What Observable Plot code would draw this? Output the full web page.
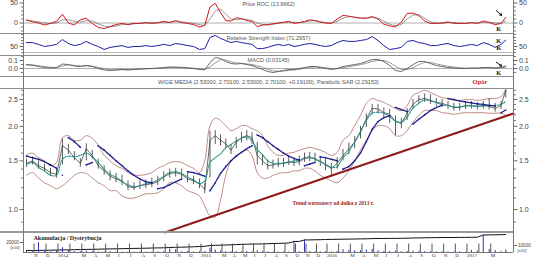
<!DOCTYPE html>
<html><head><meta charset="utf-8">
<script src="https://cdn.jsdelivr.net/npm/d3@7"></script>
<script src="https://cdn.jsdelivr.net/npm/@observablehq/plot@0.6"></script>
<style>
body{margin:0;background:#fff;}
#c{position:relative;width:536px;height:261px;overflow:hidden;font-family:"Liberation Sans",Arial,sans-serif;}
#c svg{position:absolute;left:0;overflow:visible;}
.ln{position:absolute;background:#8c8c8c;}
</style></head><body><div id="c"></div>
<script>
// sample positions: months after Jan 2014 (0 = Jan 2014)
const months = [-2.5,-2,-1.5,-1,-0.5,0,0.5,1,1.5,2,2.5,3,3.5,4,4.5,5,5.5,6,6.5,7,7.5,8,8.5,9,9.5,10,10.5,11,11.5,12,12.5,13,13.5,14,14.5,15,15.5,16,16.5,17,17.5,18,18.5,19,19.5,20,20.5,21,21.5,22,22.5,23,23.5,24,24.5,25,25.5,26,26.5,27,27.5,28,28.5,29,29.5,30,30.5,31,31.5,32,32.5,33,33.5,34,34.5,35,35.5,36,36.5,37,37.5,38,38.5,39,39.4];
const close = [1.47,1.50,1.44,1.41,1.36,1.34,1.70,1.64,1.54,1.47,1.66,1.57,1.44,1.38,1.32,1.29,1.27,1.21,1.20,1.22,1.23,1.24,1.26,1.31,1.35,1.36,1.34,1.29,1.27,1.24,
1.18,1.78,1.85,1.78,1.73,1.64,1.75,1.82,1.85,1.82,1.57,1.50,1.44,1.45,1.47,1.47,1.49,1.48,1.49,1.53,1.54,1.53,1.49,1.45,
1.41,1.47,1.57,1.66,1.75,1.90,2.13,2.32,2.31,2.24,2.21,2.08,2.05,2.23,2.40,2.50,2.52,2.48,2.44,2.42,2.38,2.34,2.34,2.38,
2.38,2.36,2.38,2.36,2.32,2.38,2.701];
const high = [1.52,1.55,1.50,1.46,1.41,1.40,1.80,1.72,1.62,1.53,1.73,1.64,1.52,1.44,1.38,1.35,1.33,1.27,1.25,1.27,1.28,1.30,1.32,1.37,1.40,1.41,1.40,1.35,1.32,1.29,
1.24,1.92,1.93,1.86,1.80,1.72,1.82,1.90,1.93,1.90,1.75,1.58,1.51,1.51,1.53,1.53,1.55,1.54,1.56,1.60,1.61,1.60,1.55,1.52,
1.47,1.54,1.65,1.74,1.84,2.00,2.22,2.40,2.40,2.33,2.30,2.18,2.14,2.32,2.50,2.58,2.62,2.60,2.52,2.50,2.46,2.42,2.42,2.46,
2.46,2.44,2.46,2.52,2.42,2.46,2.701];
const low = [1.42,1.45,1.40,1.37,1.32,1.30,1.45,1.58,1.50,1.42,1.50,1.52,1.40,1.33,1.27,1.25,1.22,1.17,1.17,1.18,1.19,1.20,1.22,1.26,1.30,1.31,1.29,1.25,1.23,1.19,
1.14,1.30,1.72,1.70,1.66,1.58,1.66,1.74,1.77,1.72,1.45,1.44,1.39,1.40,1.42,1.42,1.44,1.43,1.44,1.48,1.49,1.47,1.43,1.38,
1.33,1.40,1.50,1.58,1.66,1.80,1.98,2.20,2.22,2.15,2.05,1.85,1.96,2.10,2.30,2.42,2.44,2.40,2.36,2.35,2.30,2.27,2.27,2.30,
2.31,2.29,2.31,2.29,2.25,2.30,2.53];
const upperBand = [1.57,1.60,1.54,1.50,1.44,1.48,1.82,1.85,1.78,1.78,1.85,1.81,1.71,1.57,1.50,1.44,1.41,1.36,1.33,1.33,1.34,1.36,1.41,1.44,1.48,1.49,1.48,1.44,1.41,1.36,
1.50,2.01,2.14,2.10,2.01,1.93,1.96,2.01,2.01,1.96,1.93,1.85,1.70,1.61,1.57,1.57,1.60,1.61,1.64,1.66,1.68,1.66,1.64,1.61,
1.57,1.61,1.78,1.85,2.01,2.19,2.42,2.52,2.48,2.44,2.38,2.32,2.28,2.38,2.59,2.65,2.70,2.65,2.59,2.54,2.52,2.48,2.48,2.50,
2.50,2.48,2.50,2.52,2.52,2.56,2.73];
const lowerBand = [1.33,1.36,1.30,1.25,1.22,1.19,1.22,1.27,1.33,1.36,1.35,1.30,1.25,1.22,1.17,1.17,1.12,1.10,1.10,1.12,1.14,1.14,1.15,1.19,1.25,1.25,1.22,1.17,1.15,1.12,
1.03,0.95,0.94,1.08,1.33,1.50,1.57,1.61,1.64,1.57,1.36,1.30,1.30,1.33,1.35,1.36,1.36,1.38,1.38,1.41,1.41,1.38,1.33,1.30,
1.27,1.25,1.30,1.38,1.50,1.64,1.78,1.93,2.01,2.01,1.96,1.85,1.85,1.93,2.07,2.19,2.28,2.28,2.28,2.24,2.23,2.21,2.23,2.24,
2.24,2.24,2.24,2.23,2.23,2.23,2.19];
const middleBand = [1.45,1.48,1.42,1.38,1.33,1.33,1.52,1.56,1.55,1.57,1.60,1.55,1.48,1.40,1.34,1.31,1.26,1.23,1.21,1.22,1.24,1.25,1.28,1.32,1.36,1.37,1.35,1.31,1.28,1.24,
1.27,1.48,1.54,1.59,1.67,1.72,1.77,1.81,1.83,1.77,1.65,1.58,1.50,1.47,1.46,1.47,1.48,1.50,1.51,1.54,1.55,1.52,1.49,1.46,
1.42,1.43,1.54,1.62,1.76,1.92,2.10,2.23,2.25,2.23,2.17,2.09,2.07,2.16,2.33,2.42,2.49,2.47,2.44,2.39,2.38,2.35,2.35,2.37,
2.37,2.36,2.37,2.38,2.38,2.40,2.46];
const sar = [1.56,1.54,1.52,1.49,1.45,1.41,1.33,1.82,1.76,1.68,1.45,1.48,1.70,1.64,1.57,1.50,1.44,1.38,1.33,1.29,1.26,1.25,1.19,1.20,1.23,1.26,1.29,1.37,1.36,1.34,
1.32,1.17,1.25,1.35,1.43,1.50,1.56,1.61,1.66,1.70,1.86,1.82,1.76,1.70,1.65,1.60,1.56,1.53,1.51,1.44,1.46,1.48,1.55,1.54,
1.52,1.50,1.40,1.43,1.50,1.60,1.76,1.95,2.08,2.15,2.18,2.34,2.30,2.26,2.04,2.12,2.20,2.28,2.34,2.38,2.52,2.50,2.47,2.45,
2.43,2.41,2.40,2.38,2.37,2.24,2.29153];
const roc = [8,3,0,-5,-1,4,22,0,-5,8,12,-1,-11,-14,-9,-4,-1,-4,-1,-1,1,-1,1,4,1,6,1,-1,-4,-10,
-6,40,49,26,6,5,13,11,6,4,-9,-5,-4,-2,0,2,4,-1,1,4,8,6,2,0,
-1,10,19,17,14,12,12,16,10,-3,-7,-10,2,24,25,18,5,-1,-1,0,3,-1,-1,-1,
1,-1,5,1,-4,-1,13.97];
const rocSignal = [6,5,3,0,-1,0,8,8,4,2,6,5,-2,-8,-10,-8,-4,-3,-2,-1,0,0,0,2,2,3,3,1,-1,-4,
-6,10,30,35,22,10,8,10,9,6,0,-4,-5,-3,-1,1,2,2,1,2,5,6,4,1,
0,4,12,16,15,13,12,14,12,4,-3,-7,-4,10,20,21,12,3,0,-1,1,1,0,-1,
0,0,2,2,0,-1,5];
const rsi = [63,63,57,50,53,57,73,60,53,57,67,57,50,40,47,50,53,47,50,50,53,50,53,57,53,60,57,53,50,40,
43,80,87,77,70,63,67,63,60,57,43,43,47,53,57,53,57,50,53,57,60,57,53,50,
53,63,70,67,67,70,73,83,70,53,40,43,47,67,70,63,60,53,53,57,60,53,50,53,
57,53,63,57,47,57,71.3];
const macd = [0.05,0.04,0.025,0.012,0.006,0.012,0.056,0.05,0.03,0.025,0.037,0.025,0,-0.018,-0.025,-0.018,-0.012,-0.018,-0.012,-0.006,0,0,0.006,0.012,0.018,0.018,0.012,0.006,0,-0.012,
-0.018,0.075,0.137,0.125,0.088,0.062,0.056,0.062,0.05,0.037,0.012,-0.012,-0.037,-0.05,-0.037,-0.025,-0.012,-0.012,0,0.012,0.025,0.025,0.012,0,
-0.012,0,0.025,0.037,0.05,0.062,0.088,0.112,0.112,0.088,0.037,-0.025,-0.037,0,0.05,0.088,0.088,0.062,0.037,0.025,0.012,0.006,0,0,
0.006,0.006,0.012,0.012,0.006,0.012,0.03145];
const macdSignal = [0.045,0.045,0.035,0.025,0.015,0.012,0.03,0.045,0.04,0.032,0.033,0.03,0.015,0,-0.015,-0.018,-0.015,-0.015,-0.013,-0.01,-0.005,-0.002,0.002,0.006,0.012,0.015,0.014,0.01,0.004,-0.004,
-0.01,0.02,0.07,0.11,0.105,0.085,0.07,0.065,0.058,0.05,0.035,0.015,-0.01,-0.03,-0.035,-0.032,-0.025,-0.018,-0.01,0,0.012,0.02,0.018,0.01,
0,-0.003,0.008,0.022,0.035,0.048,0.065,0.088,0.1,0.1,0.075,0.03,-0.01,-0.015,0.01,0.05,0.075,0.075,0.058,0.042,0.028,0.018,0.01,0.004,
0.003,0.004,0.008,0.01,0.009,0.009,0.018];
const volume = [1500,1200,14000,1500,1000,2500,7000,3000,1200,1000,2000,1000,800,800,1000,800,600,700,600,800,700,600,900,1200,5000,4000,1000,1500,800,1200,
1500,6000,3500,2000,1500,1000,1200,1000,1500,900,2500,1200,900,800,700,800,700,16000,800,18000,1500,1000,900,1200,
1000,1500,4000,3000,2500,2500,3500,4500,2500,1500,1500,2000,1200,1500,2000,1500,1200,1000,800,900,800,700,900,700,
3000,2000,25000,4000,3000,1500,3500];
const accDist = [13000,13000,13100,13200,13300,13400,13600,13700,13800,14000,14100,14200,14300,14500,14600,14700,14800,15000,15100,15200,15300,15500,15600,15700,16000,16200,16300,16500,16700,17000,
17200,18000,18200,18300,18500,18700,18900,19100,19300,19500,19500,19600,19800,20000,20100,20300,20500,22000,22100,23500,23600,23700,23800,24000,
24100,24200,24300,24400,24500,24600,24700,24900,25000,25000,25100,25100,25200,25300,25500,25600,25700,25800,25900,26000,26000,26000,26100,26100,
26200,26300,28500,28600,28700,28800,29000];
// x-axis ticks (month index) and their labels
const tickMonths = [-2,-1,0,1,2,3,4,5,6,7,8,9,10,11,12,13,14,15,16,17,18,19,20,21,22,23,24,25,26,27,28,29,30,31,32,33,34,35,36,37,38];
const tickLabels = ["N","D","2014","","M","A","M","J","J","A","S","O","N","D","2015","","M","A","M","J","J","A","S","O","N","D","2016","","M","A","M","J","J","A","S","O","N","D","2017","","M"];
// trend line end points
const trendMonths = [9.1, 40.05];
const trendValues = [0.826, 2.226];
// titles
const rocTitle = "Price ROC (13.9662)";
const rsiTitle = "Relative Strength Index (71.2957)";
const macdTitle = "MACD (0.03145)";
const mainTitle = "WIGE MEDIA (2.53000, 2.70100, 2.53000, 2.70100, +0.19100), Parabolic SAR (2.29153)";
const trendNote = "Trend wzrostowy od dołka z 2013 r.";
const resistNote = "Opór";
const adTitle = "Akumulacja / Dystrybucja";

const rows = months.map((m, i) => ({m, close: close[i], hi: high[i], lo: low[i], upper: upperBand[i], lower: lowerBand[i], mid: middleBand[i], sar: sar[i], roc: roc[i], rocSig: rocSignal[i], rsi: rsi[i], macd: macd[i], macdSig: macdSignal[i], vol: volume[i], ad: accDist[i]}));
let seg = 0;
rows.forEach((r, i) => { if (i > 0 && (r.sar > r.close) !== (rows[i-1].sar > rows[i-1].close)) seg++; r.seg = seg; });
const trend = trendMonths.map((m, i) => ({m, v: trendValues[i]}));
const labelOf = new Map(tickMonths.map((m, i) => [m, tickLabels[i]]));

const c = document.getElementById("c");
const X = {type: "linear", domain: [-2.75, 0, 12, 24, 36, 40.05], range: [23, 56, 199, 325, 465, 513], axis: null};
const base = {width: 536, marginLeft: 23, marginRight: 23, style: {fontFamily: "'Liberation Sans', Arial, sans-serif", background: "transparent", overflow: "visible"}};
const AX = {tickSize: 3.5, tickPadding: 2, fontSize: 7, fill: "#444", stroke: "#666", label: null};
const MINOR = {tickSize: 2, tickFormat: () => "", stroke: "#777", label: null};
const TITLE = {frameAnchor: "top", lineAnchor: "middle", fontSize: 5.6, fill: "#555"};
const KF = {fontFamily: "'Liberation Serif', serif", fontWeight: "bold", fontSize: 6.5, fill: "#111"};
function yAxes(major, minor, fmt) {
  return [
    Plot.axisY({ticks: minor, anchor: "left", ...MINOR}),
    Plot.axisY({ticks: minor, anchor: "right", ...MINOR}),
    Plot.axisY({ticks: major, anchor: "left", tickFormat: fmt, ...AX}),
    Plot.axisY({ticks: major, anchor: "right", tickFormat: fmt, ...AX})
  ];
}
function place(svg, top) { svg.style.top = top + "px"; c.appendChild(svg); }

// ROC
place(Plot.plot({...base, height: 33, marginTop: 0, marginBottom: 0, x: X,
  y: {domain: [-26.25, 56.25], axis: null},
  marks: [
    Plot.ruleY([0], {stroke: "#9a9a9a", strokeWidth: 0.8}),
    ...yAxes([0, 50], [-20, -10, 10, 20, 30, 40], d3.format("d")),
    Plot.line(rows, {x: "m", y: "rocSig", stroke: "#666", strokeWidth: 0.8, strokeDasharray: "1.2,1.2"}),
    Plot.line(rows, {x: "m", y: "roc", stroke: "#d01818", strokeWidth: 1}),
    Plot.text([rocTitle], {...TITLE, dy: 4}),
    Plot.arrow([{x1: 38.6, y1: 31, x2: 39.05, y2: 19}], {x1: "x1", y1: "y1", x2: "x2", y2: "y2", stroke: "#111", strokeWidth: 1, headLength: 3}),
    Plot.text([{m: 38.8, v: -14, t: "K"}], {x: "m", y: "v", text: "t", ...KF})
  ]}), 0);

// RSI
place(Plot.plot({...base, height: 22, marginTop: 0, marginBottom: 0, x: X,
  y: {domain: [20, 93.3], axis: null},
  marks: [
    Plot.ruleY([30], {stroke: "#aaa", strokeWidth: 0.8}),
    ...yAxes([50], [30, 40, 60, 70, 80, 90], d3.format("d")),
    Plot.line(rows, {x: "m", y: "rsi", stroke: "#1c1ca6", strokeWidth: 1}),
    Plot.text([rsiTitle], {...TITLE, dy: 5}),
    Plot.text([{m: 38.8, v: 70, t: "K"}, {m: 38.8, v: 46, t: "K"}], {x: "m", y: "v", text: "t", ...KF})
  ]}), 33);

// MACD
place(Plot.plot({...base, height: 21, marginTop: 0, marginBottom: 0, x: X,
  y: {domain: [-0.1, 0.1625], axis: null},
  marks: [
    Plot.ruleY([0], {stroke: "#9a9a9a", strokeWidth: 0.8}),
    ...yAxes([0, 0.1], [-0.05, 0.05, 0.15], d3.format(".1f")),
    Plot.line(rows, {x: "m", y: "macdSig", stroke: "#777", strokeWidth: 0.9, strokeDasharray: "1.2,1.2"}),
    Plot.line(rows, {x: "m", y: "macd", stroke: "#5a5a50", strokeWidth: 0.9}),
    Plot.text([macdTitle], {...TITLE, dy: 5}),
    Plot.arrow([{x1: 38.6, y1: 0.078, x2: 39.05, y2: 0.03}], {x1: "x1", y1: "y1", x2: "x2", y2: "y2", stroke: "#111", strokeWidth: 1, headLength: 3}),
    Plot.text([{m: 38.8, v: -0.05, t: "K"}], {x: "m", y: "v", text: "t", ...KF})
  ]}), 55);

// Main price panel
place(Plot.plot({...base, height: 156, marginTop: 12, marginBottom: 0, x: X,
  y: {type: "log", domain: [0.826, 2.74], axis: null},
  marks: [
    ...yAxes([1.0, 1.5, 2.0, 2.5], [0.9, 1.1, 1.2, 1.3, 1.4, 1.6, 1.7, 1.8, 1.9, 2.1, 2.2, 2.3, 2.4, 2.6, 2.7], d3.format(".1f")),
    Plot.line(rows, {x: "m", y: "upper", stroke: "#b0706a", strokeWidth: 0.8, curve: "catmull-rom"}),
    Plot.line(rows, {x: "m", y: "lower", stroke: "#b0706a", strokeWidth: 0.8, curve: "catmull-rom"}),
    Plot.line(trend, {x: "m", y: "v", stroke: "#8e1c1c", strokeWidth: 2}),
    Plot.ruleX(rows, {x: "m", y1: "lo", y2: "hi", stroke: "#333", strokeWidth: 0.8}),
    Plot.line(rows, {x: "m", y: "close", stroke: "#3a423a", strokeWidth: 0.8}),
    Plot.line(rows, {x: "m", y: "mid", stroke: "#1f8f86", strokeWidth: 1.1, strokeDasharray: "1.2,1.2", curve: "catmull-rom"}),
    Plot.line(rows, {x: "m", y: "sar", z: "seg", stroke: "#1c1c8c", strokeWidth: 1.3, strokeDasharray: "2,0.8"}),
    Plot.dot(rows, {x: "m", y: "sar", r: 0.8, fill: "#1c1c8c"}),
    Plot.text([mainTitle], {...TITLE, dy: -6}),
    Plot.text([{m: 36.6, v: 2.906, t: resistNote}], {x: "m", y: "v", text: "t", textAnchor: "start", fontFamily: "'Liberation Serif', serif", fontWeight: "bold", fontSize: 6.5, fill: "#cc1f1f"}),
    Plot.text([{m: 20.86, v: 1.051, t: trendNote}], {x: "m", y: "v", text: "t", textAnchor: "start", fontFamily: "'Liberation Serif', serif", fontWeight: "bold", fontSize: 5.4, fill: "#8e1c1c"})
  ]}), 76);

// Accumulation / distribution + x axis
place(Plot.plot({...base, height: 29, marginTop: 1, marginBottom: 9, x: X,
  y: {domain: [11000, 30000], axis: null},
  marks: [
    Plot.axisY({ticks: [20000], anchor: "left", tickSize: 3, tickPadding: 1.5, fontSize: 4.6, fill: "#444", stroke: "#666", label: null, tickFormat: d3.format("d"), dy: -1}),
    Plot.text([{v: 20000, t: "[x10]"}], {x: () => -2.75, y: "v", text: "t", textAnchor: "end", dx: -4, dy: 4, fontSize: 4.2, fill: "#444"}),
    Plot.line(rows, {x: "m", y: "ad", stroke: "#111", strokeWidth: 1}),
    Plot.text([adTitle], {frameAnchor: "top-left", lineAnchor: "middle", dx: 10, dy: 4.5, fontFamily: "'Liberation Serif', serif", fontWeight: "bold", fontSize: 6, fill: "#222"}),
    Plot.axisX({ticks: tickMonths, tickFormat: d => labelOf.get(d), tickSize: 9, tickPadding: 0, textAnchor: "start", dx: 1.5, dy: -8.5, fontSize: 5, fontFamily: "'Liberation Serif', serif", fill: "#333", stroke: "#555", label: null})
  ]}), 232);

// Volume (right axis)
place(Plot.plot({...base, height: 29, marginTop: 1, marginBottom: 9, x: X,
  y: {domain: [0, 27000], axis: null},
  marks: [
    Plot.ruleX(rows, {x: "m", y1: 0, y2: "vol", stroke: "#3434b4", strokeWidth: 1}),
    Plot.axisY({ticks: [10000], anchor: "right", tickSize: 3, tickPadding: 1.5, fontSize: 4.6, fill: "#444", stroke: "#666", label: null, tickFormat: d3.format("d")}),
    Plot.text([{v: 10000, t: "[x10]"}], {x: () => 40.05, y: "v", text: "t", textAnchor: "start", dx: 4, dy: 5, fontSize: 4.2, fill: "#444"})
  ]}), 232);

// panel separators and spines
function line(l, t, w, h, col) { const d = document.createElement("div"); d.className = "ln"; Object.assign(d.style, {left: l + "px", top: t + "px", width: w + "px", height: h + "px"}); if (col) d.style.background = col; c.appendChild(d); }
[33, 55, 76, 88].forEach(t => line(0, t, 513, 1));
line(0, 231, 513, 2, "#999");
line(23, 252, 490, 1, "#777");
line(23, 0, 1, 252, "#777");
line(513, 0, 1, 252, "#777");
</script></body></html>
